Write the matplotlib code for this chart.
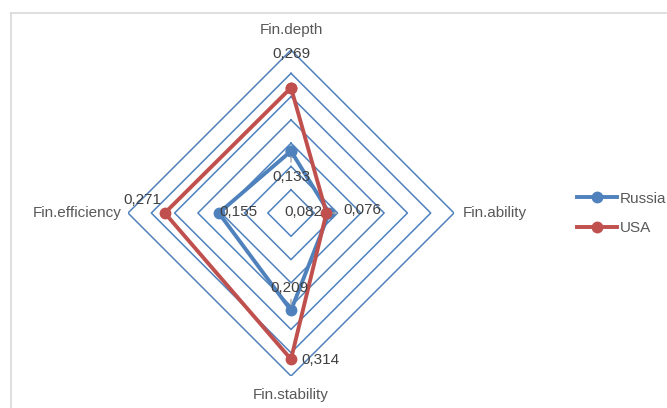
import numpy as np
import matplotlib
matplotlib.use("Agg")
import matplotlib.pyplot as plt
from matplotlib.lines import Line2D

plt.rcParams['font.family'] = ['Liberation Sans', 'DejaVu Sans']

categories = ['Fin.depth', 'Fin.ability', 'Fin.stability', 'Fin.efficiency']
russia = [0.133, 0.082, 0.209, 0.155]
usa = [0.269, 0.076, 0.314, 0.271]
ring_values = [0.05, 0.10, 0.15, 0.20, 0.25, 0.30, 0.35]

blue = '#4F81BD'
red = '#C0504D'
txt = '#595959'

fig = plt.figure(figsize=(6.67, 4.08), dpi=100)
ax = fig.add_axes([0.1919, 0.0784, 0.4888, 0.7990], projection='polar')
ax.set_theta_zero_location('N')
ax.set_theta_direction(-1)
ax.set_ylim(0, 0.35)
ax.grid(False)
ax.set_xticks([])
ax.set_yticks([])
ax.spines['polar'].set_visible(False)
ax.patch.set_alpha(0)

theta = np.arange(len(categories)) * 2 * np.pi / len(categories)
theta_closed = np.append(theta, theta[0])

# diamond grid rings
for r in ring_values:
    ax.plot(theta_closed, [r] * len(theta_closed), color=blue, lw=1.1, zorder=1)

def closed(vals):
    return np.append(vals, vals[0])

ax.plot(theta_closed, closed(russia), color=blue, lw=2.8, marker='o',
        markersize=7.5, zorder=3, label='Russia')
ax.plot(theta_closed, closed(usa), color=red, lw=2.8, marker='o',
        markersize=7.5, zorder=4, label='USA')

# category labels just outside the outer ring
cat_pos = [((0, -20), 'center', 'center'),
           ((9, 0), 'left', 'center'),
           ((0, 19), 'center', 'center'),
           ((-6, 0), 'right', 'center')]
for t, name, (off, ha, va) in zip(theta, categories, cat_pos):
    ax.annotate(name, xy=(t, 0.35), xytext=(off[0], -off[1]),
                textcoords='offset pixels', ha=ha, va=va,
                fontsize=11, color=txt, annotation_clip=False)

def fmt(v):
    return f'{v:.3f}'.replace('.', ',')

# data label offsets in pixels (x right, y down)
russia_off = [(0, 26), (-26, -1), (-2, -22), (20, -1)]
usa_off = [(0, -34), (36, -3), (29, 1), (-22, -13)]
for vals, offs in ((russia, russia_off), (usa, usa_off)):
    for t, v, (dx, dy) in zip(theta, vals, offs):
        ax.annotate(fmt(v), xy=(t, v), xytext=(dx, -dy),
                    textcoords='offset pixels', ha='center', va='center',
                    fontsize=11, color='#404040', zorder=5,
                    annotation_clip=False)

# short leader lines
leaders = [(theta[0], russia[0], 0, 11), (theta[2], russia[2], 0, -11),
           (theta[1], usa[1], 10, 0)]
for t, v, dx, dy in leaders:
    ax.annotate('', xy=(t, v), xytext=(dx, -dy), textcoords='offset pixels',
                arrowprops=dict(arrowstyle='-', color='#A6A6A6', lw=1.0,
                                shrinkA=0, shrinkB=4))

leg = fig.legend(loc='center left', bbox_to_anchor=(0.865, 0.477),
                 frameon=False, fontsize=11, handlelength=2.6,
                 handletextpad=0.2, labelspacing=1.0, borderpad=0,
                 borderaxespad=0)
for t in leg.get_texts():
    t.set_color(txt)

# chart area border
W, H = 667, 408
fig.add_artist(Line2D([11 / W, 1], [1 - 13 / H, 1 - 13 / H],
                      transform=fig.transFigure, color='#D9D9D9', lw=1.2))
fig.add_artist(Line2D([11 / W, 11 / W], [0, 1 - 13 / H],
                      transform=fig.transFigure, color='#D9D9D9', lw=1.2))

fig.savefig('out.png', dpi=100)
